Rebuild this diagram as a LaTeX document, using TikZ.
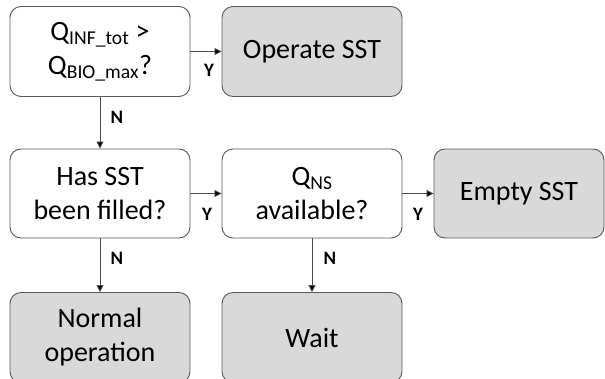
\documentclass[tikz,border=0pt]{standalone}
\usepackage{fontspec}
\setmainfont{Carlito}
\usetikzlibrary{arrows.meta}
\definecolor{boxline}{HTML}{595959}
\definecolor{boxfill}{HTML}{D9D9D9}
\begin{document}
\begin{tikzpicture}[x=1pt,y=-1pt,
  decision/.style={draw=boxline,line width=0.9pt,rounded corners=11pt,fill=white,
    minimum width=180pt,minimum height=90pt,align=center,inner sep=0pt,
    font=\fontsize{28}{34}\selectfont},
  action/.style={decision,fill=boxfill},
  arr/.style={draw=black!70,line width=0.8pt,-{Triangle[length=7pt,width=7pt,fill=black]}},
  lbl/.style={font=\fontsize{19}{22}\selectfont\bfseries,inner sep=0pt}]
\useasboundingbox (0,0) rectangle (605,378);
\clip (0,0) rectangle (605,378);
\node[decision] (q1) at (100,51.5) {Q\textsubscript{INF\_tot} >\\Q\textsubscript{BIO\_max}?};
\node[action] (op) at (312,51.5) {Operate SST};
\node[decision,minimum height=89pt] (q2) at (100,193.5) {Has SST\\been filled?};
\node[decision,minimum height=89pt] (q3) at (312,193.5) {Q\textsubscript{NS}\\available?};
\node[action,minimum height=89pt,minimum width=170pt] (em) at (519,193.5) {Empty SST};
\node[action] (no) at (100,337.5) {Normal\\operation};
\node[action] (wa) at (312,337.5) {Wait};
\draw[arr] (q1.east) -- (op.west);
\draw[arr] (q1.south) -- (q2.north);
\draw[arr] (q2.east) -- (q3.west);
\draw[arr] (q3.east) -- (em.west);
\draw[arr] (q2.south) -- (no.north);
\draw[arr] (q3.south) -- (wa.north);
\node[lbl] (y1) at (209,70) {Y};
\node[lbl] (n1) at (117,117) {N};
\node[lbl] (y2) at (207,214) {Y};
\node[lbl] (y3) at (418,214) {Y};
\node[lbl] (n2) at (117,258) {N};
\node[lbl] (n3) at (330,258) {N};
\end{tikzpicture}
\end{document}
